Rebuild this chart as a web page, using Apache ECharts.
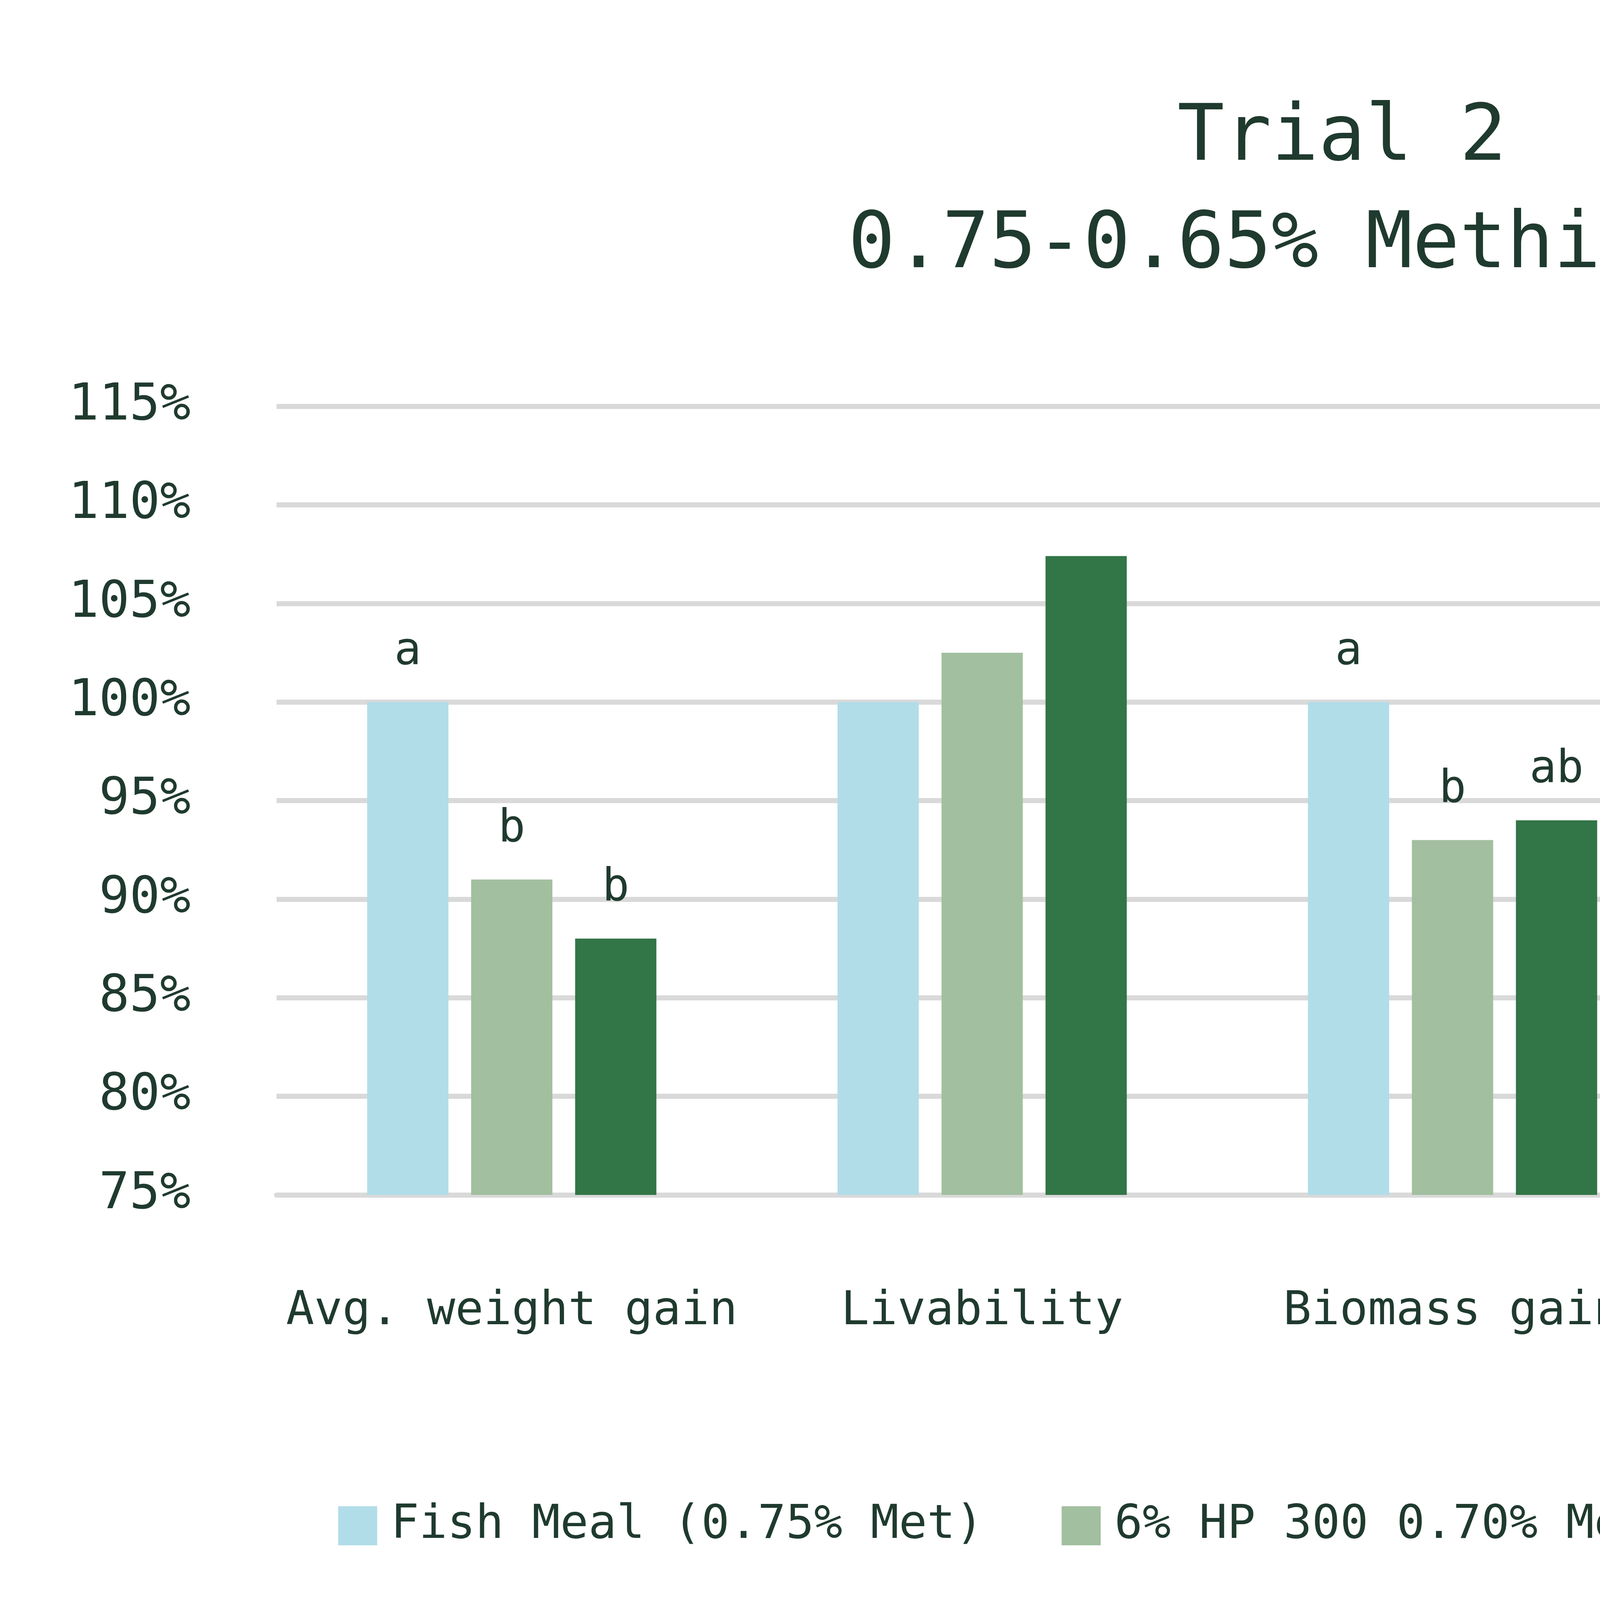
<!DOCTYPE html>
<html><head><meta charset="utf-8">
<script src="https://cdn.jsdelivr.net/npm/echarts@6/dist/echarts.min.js"></script>
<style>html,body{margin:0;padding:0;background:#fff}#c{width:6871px;height:4121px}</style>
</head><body><div id="c"></div>
<script>
const categories = ['Avg. weight gain','Livability','Biomass gain','FCR','feed cost/kg\nbiomass'];
const seriesNames = ['Fish Meal (0.75% Met)','6% HP 300 0.70% Met','12% HP 300 0.65% Met'];
const fishMeal = [100,100,100,100,100];
const hp6 = [91,102.5,93,99,93];
const hp12 = [88,107.4,94,101,90];
const labels = [['a','','a','',''],['b','','b','',''],['b','','ab','','']];
const colors = ['#b1dde9','#a2bf9f','#327547'];
const txt = '#1f3a2e';
const font = 'DejaVu Sans Mono';
const data = [fishMeal,hp6,hp12];
const chart = echarts.init(document.getElementById('c'));
chart.setOption({
  backgroundColor:'#fff',
  textStyle:{fontFamily:font,color:txt},
  title:{text:'Trial 2\n0.75-0.65% Methionine',left:'center',top:215,
    textStyle:{fontFamily:font,fontSize:200,fontWeight:'normal',color:txt,lineHeight:275}},
  legend:{bottom:150,left:'center',itemWidth:100,itemHeight:100,itemGap:200,icon:'rect',
    textStyle:{fontFamily:font,fontSize:120,color:txt,padding:[0,0,0,30]}},
  grid:{left:708,right:142,top:1040,bottom:1062},
  xAxis:{type:'category',data:categories,axisTick:{show:false},
    axisLine:{lineStyle:{color:'#d9d9d9',width:13}},
    axisLabel:{interval:0,fontFamily:font,fontSize:120,color:txt,margin:190,lineHeight:220}},
  yAxis:{type:'value',min:75,max:115,interval:5,
    axisLabel:{formatter:'{value}%',fontFamily:font,fontSize:130,color:txt,margin:220},
    splitLine:{lineStyle:{color:'#d9d9d9',width:13}},axisLine:{show:false},axisTick:{show:false}},
  series: seriesNames.map((n,i)=>({
    name:n,type:'bar',data:data[i],barWidth:208,barGap:'28%',
    itemStyle:{color:colors[i]},
    label:{show:true,position:'top',distance:70,fontFamily:font,fontSize:115,color:txt,
      formatter:p=>labels[i][p.dataIndex]}
  }))
});
</script></body></html>
